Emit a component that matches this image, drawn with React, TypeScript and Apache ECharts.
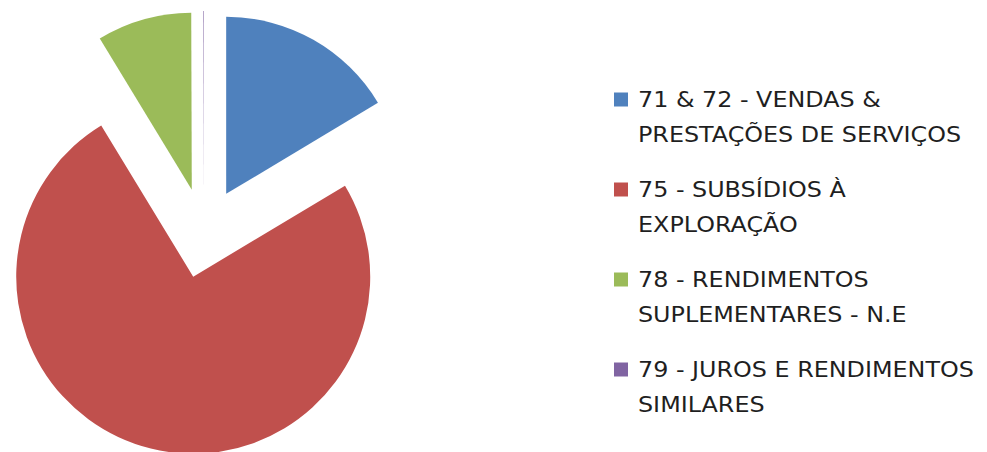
import React, { useEffect, useRef } from "react";
import * as echarts from "echarts";

const categories = [
  "71 & 72 - VENDAS &\nPRESTAÇÕES DE SERVIÇOS",
  "75 - SUBSÍDIOS À\nEXPLORAÇÃO",
  "78 - RENDIMENTOS\nSUPLEMENTARES - N.E",
  "79 - JUROS E RENDIMENTOS\nSIMILARES",
];
const values = [16.4, 74.9, 8.65, 0.05];
const colors = ["#4F81BD", "#C0504D", "#9BBB59", "#8064A2"];

export default function App() {
  const ref = useRef<HTMLDivElement>(null);
  useEffect(() => {
    if (!ref.current) return;
    const chart = echarts.init(ref.current, null, { renderer: "svg" });
    const font = "'DejaVu Sans', 'Noto Sans', sans-serif";
    const legendX = 614;
    const legendY0 = 99.5;
    const legendStep = 90;
    const lineH = 35;
    const graphic: any[] = [];
    categories.forEach((c, i) => {
      const cy = legendY0 + i * legendStep;
      graphic.push({
        type: "rect",
        shape: { x: legendX, y: cy - 7, width: 14, height: 14 },
        style: { fill: colors[i] },
        silent: true,
      });
      graphic.push({
        type: "text",
        x: 638,
        y: cy - lineH / 2 + 0.5,
        scaleX: 1.135,
        style: {
          text: c,
          fill: "#1f1f1f",
          fontFamily: font,
          fontSize: 21,
          lineHeight: lineH,
          verticalAlign: "top",
          align: "left",
        },
        silent: true,
      });
    });
    chart.setOption({
      animation: false,
      backgroundColor: "#ffffff",
      color: colors,
      graphic,
      series: [
        {
          type: "pie",
          center: [204, 233],
          radius: 177,
          startAngle: 90,
          clockwise: true,
          selectedMode: "multiple",
          selectedOffset: 45,
          label: { show: false },
          labelLine: { show: false },
          emphasis: { disabled: true },
          itemStyle: { borderWidth: 0 },
          data: categories.map((name, i) => ({
            name,
            value: values[i],
            selected: true,
            itemStyle: { color: colors[i] },
          })),
        },
      ],
    });
    return () => chart.dispose();
  }, []);
  return (
    <div
      ref={ref}
      style={{ position: "fixed", left: 0, top: 0, width: 987, height: 452 }}
    />
  );
}
